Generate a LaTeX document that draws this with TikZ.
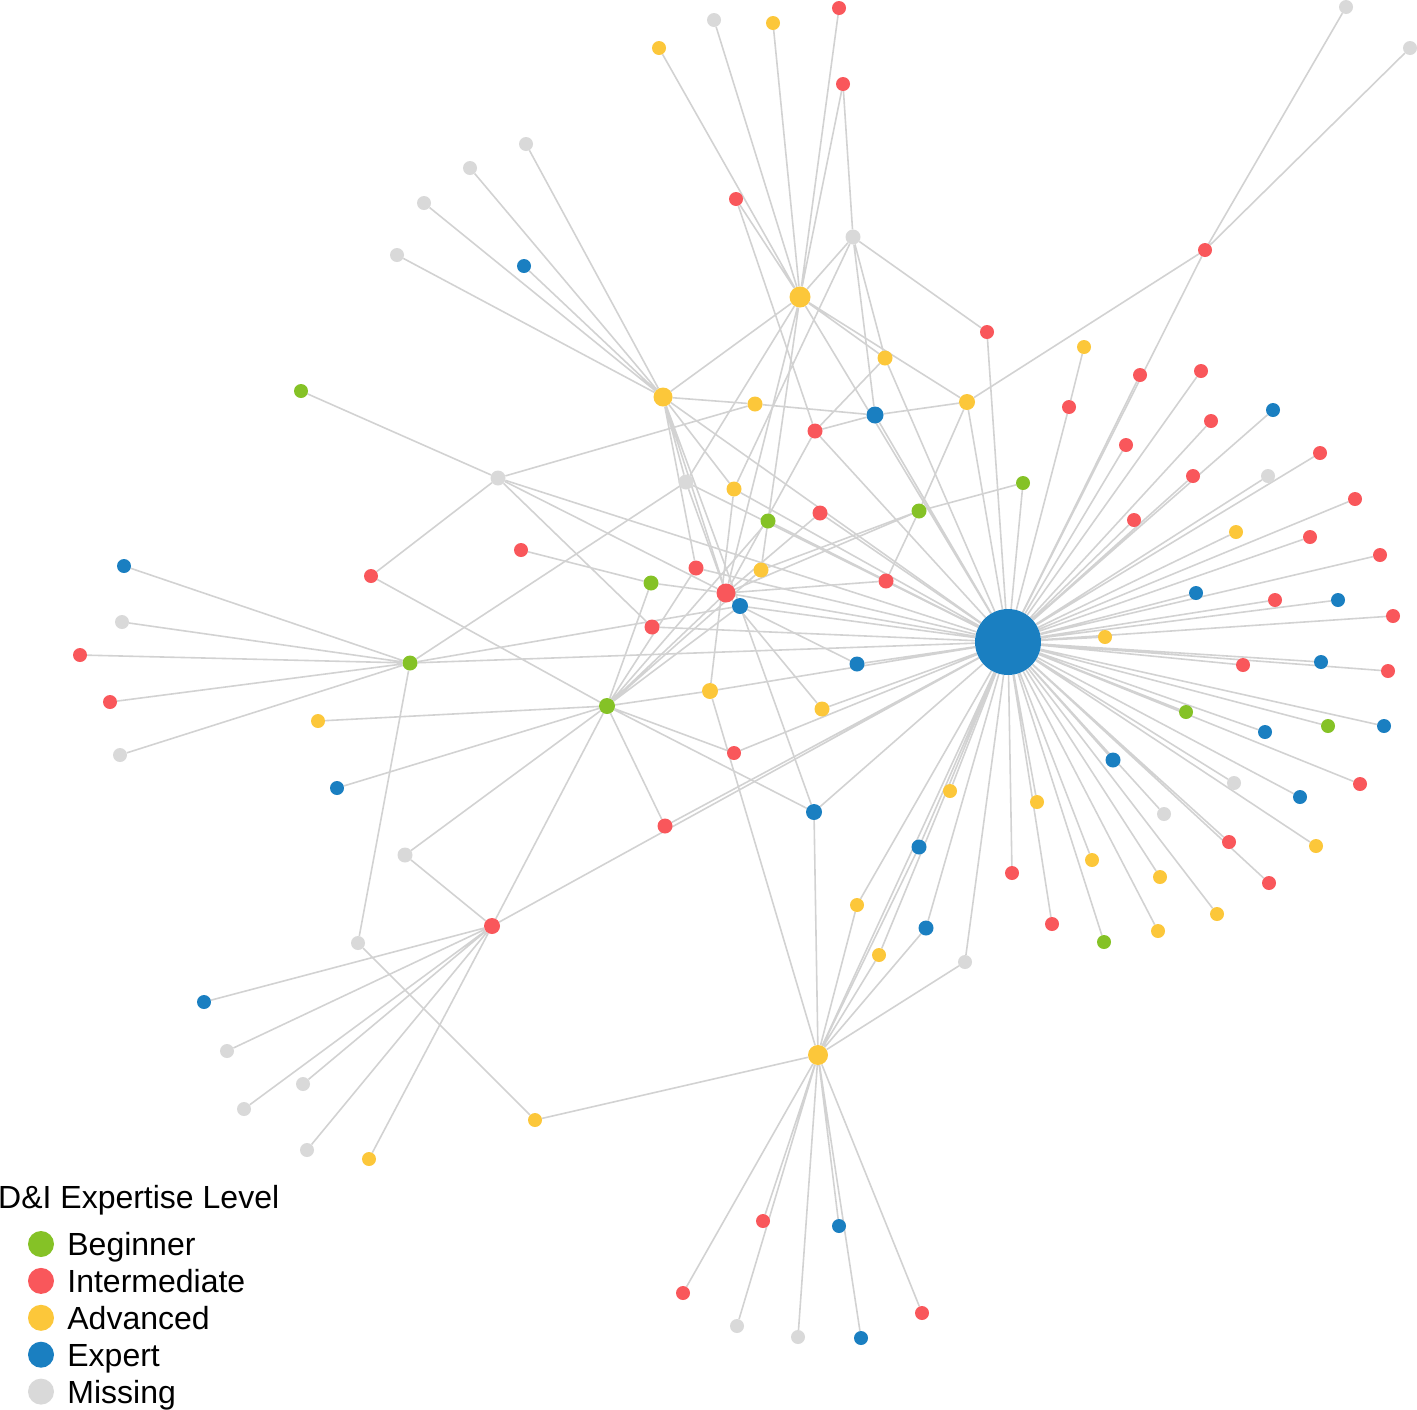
\documentclass[tikz,border=0pt]{standalone}
\usepackage{fontspec}
\setmainfont{Liberation Sans}
\usetikzlibrary{positioning, backgrounds}
\definecolor{begcolor}{RGB}{133,194,38}
\definecolor{intcolor}{RGB}{249,87,91}
\definecolor{advcolor}{RGB}{252,199,58}
\definecolor{expcolor}{RGB}{26,127,193}
\definecolor{miscolor}{RGB}{217,217,217}
\definecolor{linkcolor}{RGB}{210,210,210}

\begin{document}
\begin{tikzpicture}[
    x=1pt, y=-1pt,
    dot/.style={circle, inner sep=0pt, minimum size=14pt},
    beginner/.style={dot, fill=begcolor},
    intermediate/.style={dot, fill=intcolor},
    advanced/.style={dot, fill=advcolor},
    expert/.style={dot, fill=expcolor},
    missing/.style={dot, fill=miscolor},
    link/.style={draw=linkcolor, line width=1.6pt},
    legdot/.style={circle, inner sep=0pt, minimum size=26pt},
    legtext/.style={inner sep=0pt, font=\fontsize{32}{36}\selectfont, text height=23pt, text depth=0pt}
]
    \useasboundingbox (0,0) rectangle (1417,1409);

    % Hubs
    \node[expert, minimum size=66pt] (hub) at (1008,642) {};
    \node[advanced, minimum size=21pt] (topadv) at (800,297) {};
    \node[advanced, minimum size=19pt] (leftadv) at (663,397) {};
    \node[advanced, minimum size=20pt] (lowadv) at (818,1055) {};
    \node[intermediate, minimum size=19pt] (midint) at (726,593) {};
    \node[intermediate, minimum size=16pt] (lowint) at (492,926) {};
    \node[beginner, minimum size=16pt] (midbeg) at (607,706) {};
    \node[beginner, minimum size=15pt] (leftbeg) at (410,663) {};

    % Intermediate
    \node[intermediate] (i1) at (839,8) {};
    \node[intermediate] (i2) at (843,84) {};
    \node[intermediate] (i3) at (736,199) {};
    \node[intermediate] (i4) at (1205,250) {};
    \node[intermediate] (i5) at (987,332) {};
    \node[intermediate] (i6) at (1140,375) {};
    \node[intermediate] (i7) at (1201,371) {};
    \node[intermediate] (i8) at (1069,407) {};
    \node[intermediate, minimum size=15pt] (i9) at (815,431) {};
    \node[intermediate] (i10) at (1211,421) {};
    \node[intermediate] (i11) at (1126,445) {};
    \node[intermediate] (i12) at (1320,453) {};
    \node[intermediate] (i13) at (1193,476) {};
    \node[intermediate] (i14) at (1355,499) {};
    \node[intermediate, minimum size=15pt] (i15) at (820,513) {};
    \node[intermediate] (i16) at (1134,520) {};
    \node[intermediate] (i17) at (1310,537) {};
    \node[intermediate] (i18) at (521,550) {};
    \node[intermediate] (i19) at (371,576) {};
    \node[intermediate, minimum size=15pt] (i20) at (696,568) {};
    \node[intermediate, minimum size=15pt] (i21) at (886,581) {};
    \node[intermediate] (i22) at (1380,555) {};
    \node[intermediate] (i23) at (1275,600) {};
    \node[intermediate] (i24) at (1393,616) {};
    \node[intermediate, minimum size=15pt] (i25) at (652,627) {};
    \node[intermediate] (i26) at (80,655) {};
    \node[intermediate] (i27) at (1243,665) {};
    \node[intermediate] (i28) at (1388,671) {};
    \node[intermediate] (i29) at (110,702) {};
    \node[intermediate] (i30) at (734,753) {};
    \node[intermediate] (i31) at (1360,784) {};
    \node[intermediate, minimum size=15pt] (i32) at (665,826) {};
    \node[intermediate] (i33) at (1229,842) {};
    \node[intermediate] (i34) at (1012,873) {};
    \node[intermediate] (i35) at (1269,883) {};
    \node[intermediate] (i36) at (1052,924) {};
    \node[intermediate] (i37) at (763,1221) {};
    \node[intermediate] (i38) at (683,1293) {};
    \node[intermediate] (i39) at (922,1313) {};

    % Advanced
    \node[advanced] (a1) at (773,23) {};
    \node[advanced] (a2) at (659,48) {};
    \node[advanced, minimum size=15pt] (a3) at (885,358) {};
    \node[advanced] (a4) at (1084,347) {};
    \node[advanced, minimum size=15pt] (a5) at (755,404) {};
    \node[advanced, minimum size=16pt] (a6) at (967,402) {};
    \node[advanced, minimum size=15pt] (a7) at (734,489) {};
    \node[advanced] (a8) at (1236,532) {};
    \node[advanced, minimum size=15pt] (a9) at (761,570) {};
    \node[advanced] (a10) at (1105,637) {};
    \node[advanced, minimum size=16pt] (a11) at (710,691) {};
    \node[advanced] (a12) at (318,721) {};
    \node[advanced, minimum size=15pt] (a13) at (822,709) {};
    \node[advanced] (a14) at (950,791) {};
    \node[advanced] (a15) at (1037,802) {};
    \node[advanced] (a16) at (1316,846) {};
    \node[advanced] (a17) at (1092,860) {};
    \node[advanced] (a18) at (1160,877) {};
    \node[advanced] (a19) at (857,905) {};
    \node[advanced] (a20) at (1217,914) {};
    \node[advanced] (a21) at (1158,931) {};
    \node[advanced] (a22) at (879,955) {};
    \node[advanced] (a23) at (535,1120) {};
    \node[advanced] (a24) at (369,1159) {};

    % Expert
    \node[expert] (e1) at (524,266) {};
    \node[expert, minimum size=17pt] (e2) at (875,415) {};
    \node[expert] (e3) at (1273,410) {};
    \node[expert] (e4) at (124,566) {};
    \node[expert, minimum size=16pt] (e5) at (740,606) {};
    \node[expert] (e6) at (1196,593) {};
    \node[expert] (e7) at (1338,600) {};
    \node[expert, minimum size=15pt] (e8) at (857,664) {};
    \node[expert] (e9) at (1321,662) {};
    \node[expert] (e10) at (1265,732) {};
    \node[expert] (e11) at (1384,726) {};
    \node[expert, minimum size=15pt] (e12) at (1113,760) {};
    \node[expert] (e13) at (337,788) {};
    \node[expert] (e14) at (1300,797) {};
    \node[expert, minimum size=16pt] (e15) at (814,812) {};
    \node[expert, minimum size=15pt] (e16) at (919,847) {};
    \node[expert, minimum size=15pt] (e17) at (926,928) {};
    \node[expert] (e18) at (204,1002) {};
    \node[expert] (e19) at (839,1226) {};
    \node[expert] (e20) at (861,1338) {};

    % Beginner
    \node[beginner] (g1) at (301,391) {};
    \node[beginner] (g2) at (1023,483) {};
    \node[beginner, minimum size=15pt] (g3) at (768,521) {};
    \node[beginner, minimum size=15pt] (g4) at (919,511) {};
    \node[beginner, minimum size=15pt] (g5) at (651,583) {};
    \node[beginner] (g6) at (1186,712) {};
    \node[beginner] (g7) at (1328,726) {};
    \node[beginner] (g8) at (1104,942) {};

    % Missing
    \node[missing] (m1) at (714,20) {};
    \node[missing] (m2) at (1346,7) {};
    \node[missing] (m3) at (1410,48) {};
    \node[missing] (m4) at (526,144) {};
    \node[missing] (m5) at (470,168) {};
    \node[missing] (m6) at (424,203) {};
    \node[missing] (m7) at (397,255) {};
    \node[missing, minimum size=15pt] (m8) at (853,237) {};
    \node[missing] (m9) at (1268,476) {};
    \node[missing, minimum size=15pt] (m10) at (498,478) {};
    \node[missing, minimum size=15pt] (m11) at (686,482) {};
    \node[missing] (m12) at (122,622) {};
    \node[missing] (m13) at (120,755) {};
    \node[missing] (m14) at (1234,783) {};
    \node[missing] (m15) at (1164,814) {};
    \node[missing, minimum size=15pt] (m16) at (405,855) {};
    \node[missing] (m17) at (358,943) {};
    \node[missing] (m18) at (965,962) {};
    \node[missing] (m19) at (227,1051) {};
    \node[missing] (m20) at (303,1084) {};
    \node[missing] (m21) at (244,1109) {};
    \node[missing] (m22) at (307,1150) {};
    \node[missing] (m23) at (737,1326) {};
    \node[missing] (m24) at (798,1337) {};

    % Links
    \begin{scope}[on background layer]
    \draw[link] (hub) -- (i6) (hub) -- (i7) (hub) -- (i11) (hub) -- (i10) (hub) -- (e3) (hub) -- (i13) (hub) -- (i16);
    \draw[link] (hub) -- (i12) (hub) -- (m9) (hub) -- (i14) (hub) -- (a8) (hub) -- (i17) (hub) -- (i22) (hub) -- (e6);
    \draw[link] (hub) -- (i23) (hub) -- (e7) (hub) -- (i24) (hub) -- (a10) (hub) -- (i27) (hub) -- (e9) (hub) -- (i28);
    \draw[link] (hub) -- (g6) (hub) -- (i31) (hub) -- (e10) (hub) -- (g7) (hub) -- (e11) (hub) -- (e12) (hub) -- (m15);
    \draw[link] (hub) -- (m14) (hub) -- (a16) (hub) -- (e14) (hub) -- (i33) (hub) -- (i35) (hub) -- (a15) (hub) -- (i36);
    \draw[link] (hub) -- (i34) (hub) -- (a17) (hub) -- (g8) (hub) -- (a18) (hub) -- (a21) (hub) -- (a20) (hub) -- (a14);
    \draw[link] (hub) -- (lowadv) (hub) -- (e16) (hub) -- (a19) (hub) -- (e17) (hub) -- (m18) (hub) -- (a22);
    \draw[link] (hub) -- (lowint) (hub) -- (i32) (hub) -- (i30) (hub) -- (e15) (hub) -- (a13) (hub) -- (e8) (hub) -- (a11);
    \draw[link] (hub) -- (i25) (hub) -- (leftbeg) (hub) -- (m10) (hub) -- (i21) (hub) -- (g3) (hub) -- (a7) (hub) -- (i15);
    \draw[link] (hub) -- (i20) (hub) -- (midint) (hub) -- (e5) (hub) -- (m11) (hub) -- (g2) (hub) -- (i5) (hub) -- (i8);
    \draw[link] (hub) -- (a6) (hub) -- (a3) (hub) -- (e2) (hub) -- (i9) (hub) -- (topadv) (hub) -- (leftadv) (hub) -- (i4);
    \draw[link] (i4) -- (m2) (i4) -- (m3) (i4) -- (a6) (a4) -- (i8);
    % top cluster
    \draw[link] (topadv) -- (a2) (topadv) -- (m1) (topadv) -- (a1) (topadv) -- (i1) (topadv) -- (i2) (topadv) -- (i3);
    \draw[link] (topadv) -- (m8) (topadv) -- (leftadv) (topadv) -- (m11) (topadv) -- (a9) (topadv) -- (midint);
    \draw[link] (topadv) -- (a3) (topadv) -- (a6);
    \draw[link] (m8) -- (i2) (m8) -- (a7) (m8) -- (e2) (m8) -- (a3) (m8) -- (i5) (i3) -- (i9);
    \draw[link] (a3) -- (i9) (a6) -- (e2) (a6) -- (g4) (a5) -- (e2) (a5) -- (m10) (e2) -- (i9);
    % left upper cluster
    \draw[link] (leftadv) -- (m4) (leftadv) -- (m5) (leftadv) -- (m6) (leftadv) -- (m7) (leftadv) -- (e1) (leftadv) -- (a5);
    \draw[link] (leftadv) -- (m11) (leftadv) -- (i20) (leftadv) -- (midint) (leftadv) -- (e5) (leftadv) -- (a7);
    % centre
    \draw[link] (midint) -- (i21) (midint) -- (i15) (midint) -- (a13) (midint) -- (i9) (midint) -- (g4) (midint) -- (m10);
    \draw[link] (midint) -- (g5) (midint) -- (m11) (g4) -- (a9) (g4) -- (g2) (g4) -- (i21);
    \draw[link] (e5) -- (e15) (e5) -- (e8) (a7) -- (a11) (a11) -- (lowadv);
    \draw[link] (m10) -- (g1) (m10) -- (i19) (m10) -- (i25) (i18) -- (g5);
    % beginner clusters
    \draw[link] (midbeg) -- (midint) (midbeg) -- (e5) (midbeg) -- (i20) (midbeg) -- (a9) (midbeg) -- (g3) (midbeg) -- (g5);
    \draw[link] (midbeg) -- (a11) (midbeg) -- (i30) (midbeg) -- (e15) (midbeg) -- (i32) (midbeg) -- (lowint) (midbeg) -- (m16);
    \draw[link] (midbeg) -- (a12) (midbeg) -- (e13) (midbeg) -- (i19);
    \draw[link] (leftbeg) -- (e4) (leftbeg) -- (m12) (leftbeg) -- (i26) (leftbeg) -- (i29) (leftbeg) -- (m13);
    \draw[link] (leftbeg) -- (m11) (leftbeg) -- (e5) (leftbeg) -- (m17) (m17) -- (a23);
    % lower clusters
    \draw[link] (lowint) -- (e18) (lowint) -- (m19) (lowint) -- (m21) (lowint) -- (m20) (lowint) -- (m22) (lowint) -- (a24) (lowint) -- (m16);
    \draw[link] (lowadv) -- (i38) (lowadv) -- (i37) (lowadv) -- (m23) (lowadv) -- (m24) (lowadv) -- (e19) (lowadv) -- (e20) (lowadv) -- (i39);
    \draw[link] (lowadv) -- (a23) (lowadv) -- (e15) (lowadv) -- (a19) (lowadv) -- (e16) (lowadv) -- (a22) (lowadv) -- (e17) (lowadv) -- (m18);
    \end{scope}

    % Legend
    \node[legtext, anchor=base west] (ltitle) at (-2,1208) {D\&I Expertise Level};
    \node[legdot, fill=begcolor] (kbeg) at (41,1244) {};
    \node[legdot, fill=intcolor, below=10.5pt of kbeg] (kint) {};
    \node[legdot, fill=advcolor, below=10.5pt of kint] (kadv) {};
    \node[legdot, fill=expcolor, below=10.5pt of kadv] (kexp) {};
    \node[legdot, fill=miscolor, below=10.5pt of kexp] (kmis) {};
    \node[legtext, right=13pt of kbeg] (lbeg) {Beginner};
    \node[legtext, right=13pt of kint] (lint) {Intermediate};
    \node[legtext, right=13pt of kadv] (ladv) {Advanced};
    \node[legtext, right=13pt of kexp] (lexp) {Expert};
    \node[legtext, right=13pt of kmis] (lmis) {Missing};
\end{tikzpicture}
\end{document}
